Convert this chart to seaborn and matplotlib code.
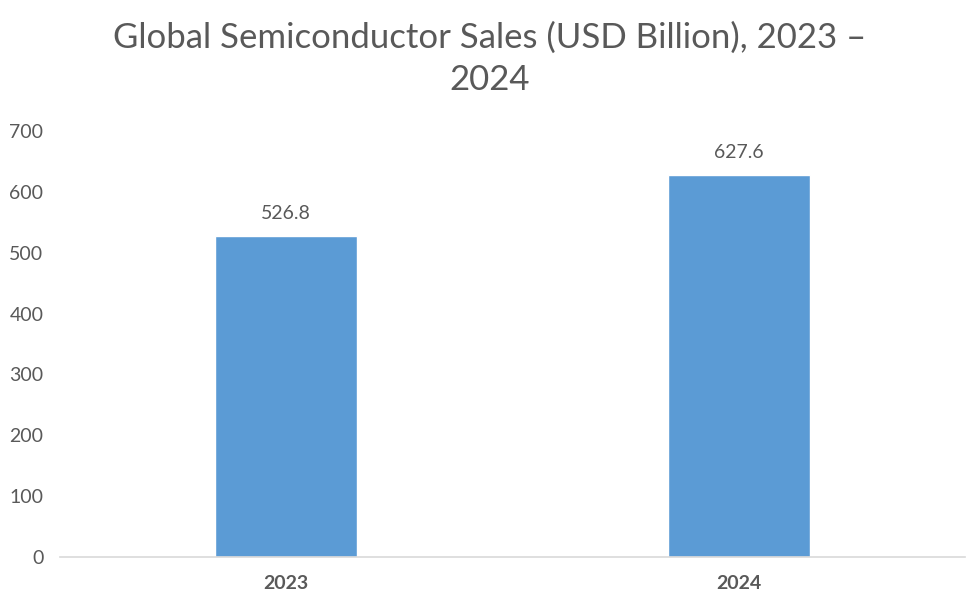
import matplotlib
matplotlib.use("Agg")
import matplotlib.pyplot as plt
import seaborn as sns
import pandas as pd

years = ["2023", "2024"]
sales = [526.8, 627.6]
title = "Global Semiconductor Sales (USD Billion), 2023 –\n2024"

sns.set_theme(style="white")
plt.rcParams['font.family'] = ['Lato', 'DejaVu Sans']

grey = '#595959'
df = pd.DataFrame({"year": years, "sales": sales})

fig = plt.figure(figsize=(9.8, 6), dpi=100)
ax = fig.add_axes([0.0612, 0.0717, 0.9235, 0.71])
sns.barplot(data=df, x="year", y="sales", color='#5B9BD5', width=0.314,
            saturation=1, ax=ax)

ax.set_xlim(-0.5, 1.5)
ax.set_ylim(0, 700)
ax.set_yticks(range(0, 701, 100))
ax.set_xlabel('')
ax.set_ylabel('')
for s in ['top', 'right', 'left']:
    ax.spines[s].set_visible(False)
ax.spines['bottom'].set_color('#D9D9D9')
ax.spines['bottom'].set_linewidth(1.2)
ax.tick_params(axis='both', length=0, colors=grey, labelsize=14)
ax.tick_params(axis='y', pad=12)
ax.tick_params(axis='x', pad=13)
for lab in ax.get_xticklabels():
    lab.set_fontweight('bold')

for i, v in enumerate(sales):
    ax.annotate(f"{v:.1f}", (i, v), xytext=(0, 10), textcoords='offset points',
                ha='center', va='bottom', color=grey, fontsize=14)

fig.text(0.5, 0.902, title, ha='center', va='center', color=grey,
         fontsize=25, linespacing=1.38)

fig.savefig("out.png", dpi=100)
